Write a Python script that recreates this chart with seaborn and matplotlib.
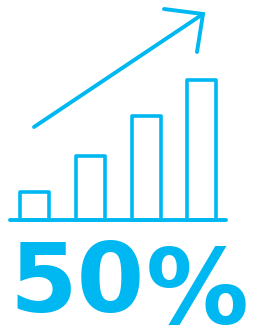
import numpy as np
import pandas as pd
import seaborn as sns
import matplotlib.pyplot as plt

# bar values (relative growth)
cats = ["A", "B", "C", "D"]
vals = [20, 46, 74, 100]
big_num = "50"
big_sign = "%"

blue = "#00B8F1"

sns.set_theme(style="white")

W, H = 255, 335
fig = plt.figure(figsize=(W / 100, H / 100), dpi=100)

# bar axes: 1 unit = 1.4 px, baseline at 220 px from top
px = 1.4
ax = fig.add_axes([0, 105 / H, 1, 230 / H])
df = pd.DataFrame({"cat": cats, "val": vals})
sns.barplot(data=df, x="cat", y="val", color=blue, fill=False, width=0.52,
            linewidth=2.6, edgecolor=blue, ax=ax)
for p in ax.patches:
    p.set_joinstyle("round")
    p.set_capstyle("round")
    p.set_clip_on(False)
ax.set_xlim(-34.5 / 55.8, (W - 34.5) / 55.8)
ax.set_ylim(-10 / px, 220 / px)
ax.axhline(0, xmin=10 / W, xmax=226 / W, color=blue, lw=2.8,
           solid_capstyle="round", clip_on=False)
ax.axis("off")

# overlay in pixel coords for arrow + text
ov = fig.add_axes([0, 0, 1, 1])
ov.set_xlim(0, W)
ov.set_ylim(H, 0)
ov.axis("off")
ov.plot([34, 203], [127, 14], color=blue, lw=2.8, solid_capstyle="round")
ov.plot([164, 203, 197], [9, 14, 52], color=blue, lw=2.8,
        solid_capstyle="round", solid_joinstyle="miter")

ov.text(9, 312, big_num, color=blue, fontsize=70, fontweight="bold",
        family="DejaVu Sans", va="baseline", ha="left")
ov.text(146, 324, big_sign, color=blue, fontsize=74, fontweight="bold",
        family="DejaVu Sans", va="baseline", ha="left")

fig.savefig("out.png", dpi=100)
